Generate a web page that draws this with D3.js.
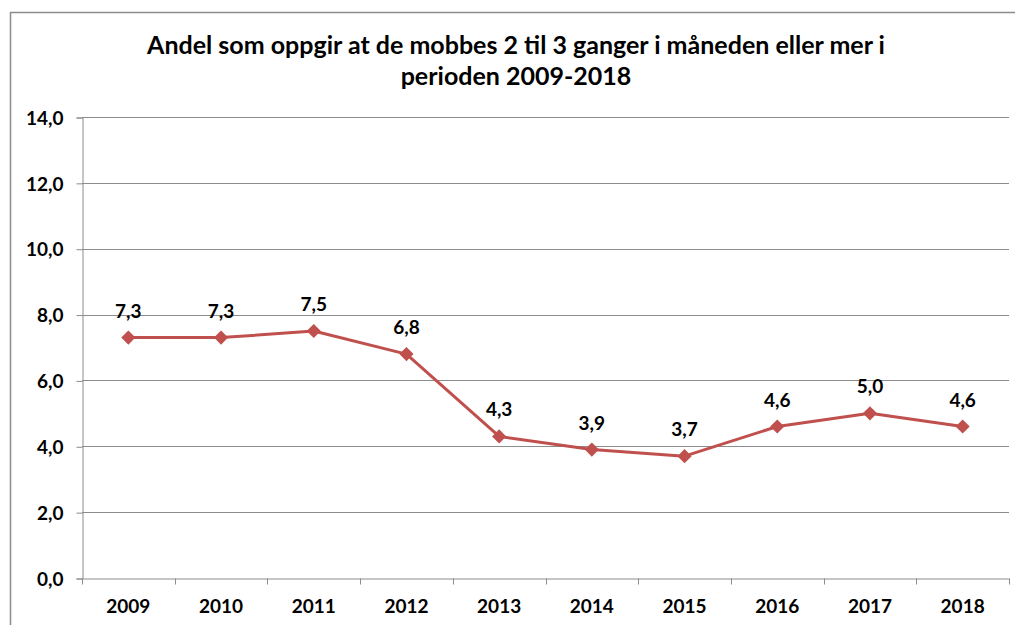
<!DOCTYPE html>
<html>
<head>
<meta charset="utf-8">
<script src="https://cdn.jsdelivr.net/npm/d3@7"></script>
<style>
  body { margin: 0; background: #fff; }
  svg text { font-family: Lato, "Open Sans", sans-serif; font-weight: bold; fill: #000; }
</style>
</head>
<body>
<svg id="chart" width="1015" height="625"></svg>
<script>
var years = ['2009', '2010', '2011', '2012', '2013', '2014', '2015', '2016', '2017', '2018'];
var shares = [7.3, 7.3, 7.5, 6.8, 4.3, 3.9, 3.7, 4.6, 5.0, 4.6];
var yTicks = [0, 2, 4, 6, 8, 10, 12, 14];
var titleLines = ['Andel som oppgir at de mobbes 2 til 3 ganger i måneden eller mer i', 'perioden 2009-2018'];

var svg = d3.select('#chart');
var fmt = d => d.toFixed(1).replace('.', ',');

// outer frame
svg.append('rect')
  .attr('x', 10.5).attr('y', 12.5)
  .attr('width', 1020).attr('height', 630)
  .attr('fill', 'none').attr('stroke', '#8c8c8c').attr('stroke-width', 1.5);

var plotLeft = 82, plotRight = 1009, plotTop = 117, plotBottom = 578;

var x = d3.scaleBand().domain(years).range([plotLeft, plotRight]);
var y = d3.scaleLinear().domain([0, 14]).range([plotBottom, plotTop]);

// title
svg.append('text')
  .attr('x', 516).attr('y', 54)
  .attr('text-anchor', 'middle')
  .style('font-size', '25px')
  .selectAll('tspan')
  .data(titleLines)
  .enter().append('tspan')
    .attr('x', 516)
    .attr('dy', (d, i) => i ? 31 : 0)
    .text(d => d);

// gridlines
svg.append('g')
  .selectAll('line')
  .data(yTicks.slice(1))
  .enter().append('line')
    .attr('x1', plotLeft).attr('x2', plotRight)
    .attr('y1', d => Math.round(y(d)) + 0.5)
    .attr('y2', d => Math.round(y(d)) + 0.5)
    .attr('stroke', '#8c8c8c').attr('stroke-width', 1);

// y axis
var yAxis = svg.append('g')
  .attr('transform', 'translate(' + (plotLeft + 0.5) + ',0.5)')
  .call(d3.axisLeft(y).tickValues(yTicks).tickFormat(fmt).tickSize(6).tickPadding(13));
yAxis.selectAll('line, path').attr('stroke', '#8c8c8c');
yAxis.selectAll('text').style('font-size', '19px').attr('dy', '0.35em');

// x axis
var xAxis = svg.append('g')
  .attr('transform', 'translate(0,' + (plotBottom + 0.5) + ')')
  .call(d3.axisBottom(x).tickSize(0).tickPadding(21));
xAxis.select('.domain').attr('stroke', '#8c8c8c');
xAxis.selectAll('text').style('font-size', '19px');
xAxis.selectAll('.bound')
  .data(years.concat(['end']))
  .enter().append('line')
    .attr('class', 'bound')
    .attr('x1', (d, i) => Math.round(plotLeft + i * x.step()) + 0.5)
    .attr('x2', (d, i) => Math.round(plotLeft + i * x.step()) + 0.5)
    .attr('y1', 0).attr('y2', 6)
    .attr('stroke', '#8c8c8c');

// line
var cx = d => x(d) + x.bandwidth() / 2;
var line = d3.line()
  .x((d, i) => cx(years[i]))
  .y(d => y(d));

svg.append('path')
  .datum(shares)
  .attr('d', line)
  .attr('fill', 'none')
  .attr('stroke', '#c0504d')
  .attr('stroke-width', 3)
  .attr('stroke-linejoin', 'round');

svg.append('g')
  .selectAll('path')
  .data(shares)
  .enter().append('path')
    .attr('d', d3.symbol().type(d3.symbolSquare).size(100))
    .attr('transform', (d, i) => 'translate(' + cx(years[i]) + ',' + y(d) + ') rotate(45)')
    .attr('fill', '#c0504d');

// data labels
svg.append('g')
  .selectAll('text')
  .data(shares)
  .enter().append('text')
    .attr('x', (d, i) => cx(years[i]))
    .attr('y', d => y(d) - 20)
    .attr('text-anchor', 'middle')
    .style('font-size', '19px')
    .text(fmt);
</script>
</body>
</html>
